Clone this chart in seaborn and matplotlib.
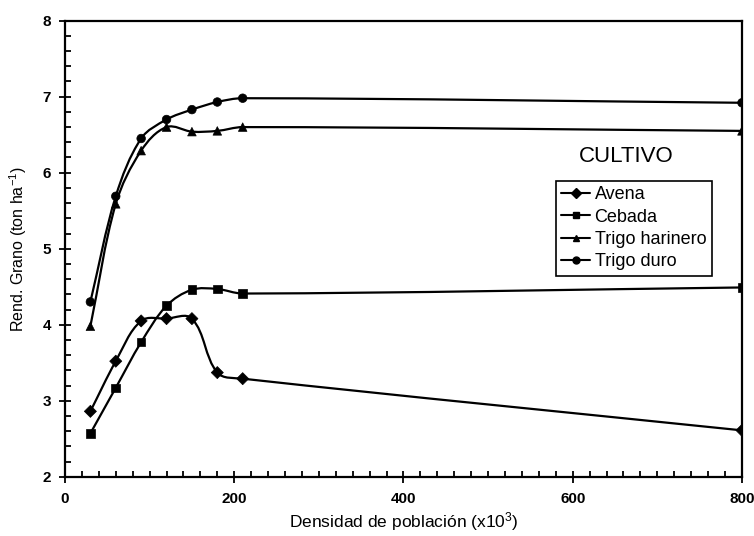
import pandas as pd
import matplotlib
matplotlib.use("Agg")
import matplotlib.pyplot as plt
import seaborn as sns
from matplotlib.path import Path
from matplotlib.patches import PathPatch
from matplotlib.lines import Line2D
from matplotlib.ticker import MultipleLocator
import numpy as np

# Datos
densidad = [30, 60, 90, 120, 150, 180, 210, 800]
avena = [2.86, 3.52, 4.05, 4.08, 4.08, 3.37, 3.29, 2.61]
cebada = [2.57, 3.17, 3.77, 4.25, 4.46, 4.47, 4.41, 4.49]
trigo_harinero = [3.98, 5.59, 6.29, 6.60, 6.54, 6.55, 6.60, 6.55]
trigo_duro = [4.30, 5.69, 6.45, 6.70, 6.83, 6.93, 6.98, 6.92]

cultivos = ["Avena", "Cebada", "Trigo harinero", "Trigo duro"]
series = [avena, cebada, trigo_harinero, trigo_duro]
marcadores = {"Avena": "D", "Cebada": "s", "Trigo harinero": "^", "Trigo duro": "o"}

df = pd.concat(
    [pd.DataFrame({"Densidad": densidad, "Rend": vals, "Cultivo": c})
     for c, vals in zip(cultivos, series)],
    ignore_index=True,
)

# Estilo
sns.set_theme(style="ticks", rc={
    "text.color": "black", "axes.labelcolor": "black",
    "xtick.color": "black", "ytick.color": "black",
    "axes.edgecolor": "black",
})
plt.rcParams["font.family"] = ["Liberation Sans", "DejaVu Sans"]
plt.rcParams["mathtext.default"] = "regular"

fig, ax = plt.subplots(figsize=(7.54, 5.36), dpi=100)
fig.subplots_adjust(left=0.0862, right=0.984, top=0.9614, bottom=0.1106)

ax.set_xlim(0, 800)
ax.set_ylim(2, 8)


def curva_suave(ax, xs, ys, tension=1 / 3):
    # lineas suavizadas (tipo Excel) construidas en coordenadas de pantalla
    pts = ax.transData.transform(np.column_stack([xs, ys]))
    n = len(pts)
    tang = []
    for i in range(n):
        a = pts[max(i - 1, 0)]
        b = pts[min(i + 1, n - 1)]
        d = b - a
        tang.append(d / np.hypot(*d))
    verts = [pts[0]]
    codes = [Path.MOVETO]
    for i in range(n - 1):
        L = np.hypot(*(pts[i + 1] - pts[i]))
        c1 = pts[i] + tang[i] * L * tension
        c2 = pts[i + 1] - tang[i + 1] * L * tension
        verts += [c1, c2, pts[i + 1]]
        codes += [Path.CURVE4] * 3
    verts = ax.transData.inverted().transform(np.array(verts))
    patch = PathPatch(Path(verts, codes), facecolor="none", edgecolor="black",
                      lw=1.6, transform=ax.transData, zorder=2)
    ax.add_patch(patch)


for c in cultivos:
    sub = df[df["Cultivo"] == c]
    curva_suave(ax, sub["Densidad"].values, sub["Rend"].values)

sns.scatterplot(
    data=df, x="Densidad", y="Rend", style="Cultivo", markers=marcadores,
    color="black", edgecolor="black", s=38, legend=False, ax=ax, zorder=3,
)

# Ejes
ax.xaxis.set_major_locator(MultipleLocator(200))
ax.xaxis.set_minor_locator(MultipleLocator(20))
ax.yaxis.set_major_locator(MultipleLocator(1))
ax.yaxis.set_minor_locator(MultipleLocator(0.2))
ax.tick_params(which="major", direction="inout", length=8, width=1.3, labelsize=11)
ax.tick_params(which="minor", direction="in", length=4, width=1.3)
ax.tick_params(axis="x", which="major", pad=7)
ax.tick_params(axis="y", which="major", pad=6)
for lbl in ax.get_xticklabels() + ax.get_yticklabels():
    lbl.set_fontweight("bold")
for sp in ax.spines.values():
    sp.set_linewidth(1.6)

ax.set_xlabel("Densidad de población (x10$^{3}$)", fontsize=12.5, labelpad=3)
ax.set_ylabel("Rend. Grano (ton ha$^{-1}$)", fontsize=11.5, labelpad=10)

# Leyenda
handles = [Line2D([], [], color="black", lw=1.5, marker=marcadores[c], markersize=5)
           for c in cultivos]
leg = ax.legend(handles, cultivos, loc="upper left", bbox_to_anchor=(0.725, 0.649),
                borderaxespad=0, fontsize=13, handlelength=1.6, handletextpad=0.25,
                labelspacing=0.3, borderpad=0.3, fancybox=False, framealpha=1)
leg.get_frame().set_edgecolor("black")
leg.get_frame().set_linewidth(1.2)
ax.text(0.8287, 0.7018, "CULTIVO", transform=ax.transAxes, ha="center",
        va="center", fontsize=16)

fig.savefig("out.png", dpi=100)
